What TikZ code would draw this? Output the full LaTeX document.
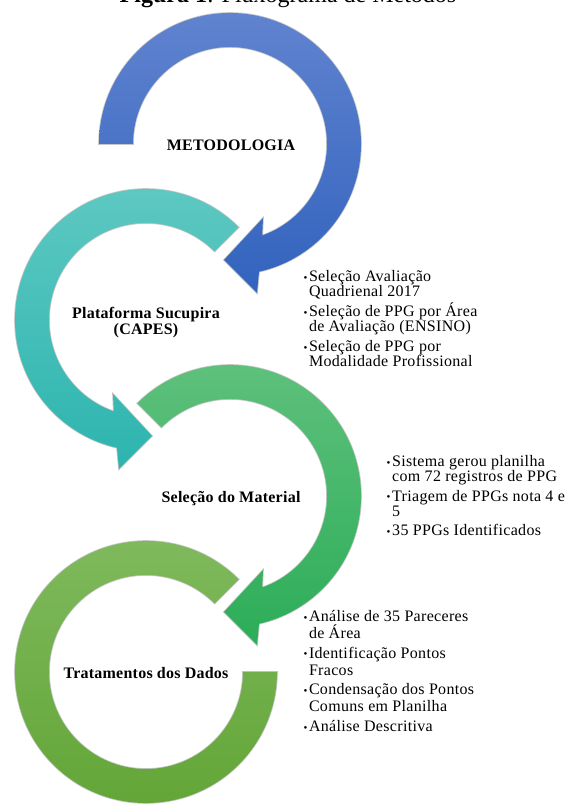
\documentclass[tikz,border=0pt]{standalone}
\usepackage{fontspec}
\setmainfont{Liberation Serif}
\definecolor{bluetop}{RGB}{96,131,207}
\definecolor{bluebot}{RGB}{50,99,190}
\definecolor{tealtop}{RGB}{95,201,194}
\definecolor{tealbot}{RGB}{45,180,175}
\definecolor{greentop}{RGB}{96,193,125}
\definecolor{greenbot}{RGB}{44,173,88}
\definecolor{limetop}{RGB}{128,186,94}
\definecolor{limebot}{RGB}{98,165,54}
\newcommand{\bul}{\makebox[5.5pt][l]{\fontsize{11}{11}\selectfont\raisebox{0.6pt}{•}}}
\tikzset{
  ring/.style={preaction={draw=black!22,line width=1.6pt}},
  lbl/.style={font=\bfseries\fontsize{16}{16.7}\selectfont\addfontfeature{LetterSpace=1.5},inner sep=0pt,align=center},
  itm/.style={font=\fontsize{16}{15}\selectfont\addfontfeature{LetterSpace=2},inner sep=0pt,anchor=base west},
}
\begin{document}
\begin{tikzpicture}[x=1pt,y=1pt]
\useasboundingbox (0,0) rectangle (566,806);
\fill[white] (0,0) rectangle (566,806);
% title (cut at top, as in the reference)
\node[font=\fontsize{24}{26}\selectfont,inner sep=0pt,anchor=base] (title) at (288,803) {\textbf{Figura 1}: Fluxograma de Métodos};
% arc 4
\begin{scope}[shift={(146,134)}]
\shade[ring,top color=limetop,bottom color=limebot]
 (45:131) arc[start angle=45,end angle=360,radius=131] -- (0:97)
 arc[start angle=360,end angle=45,radius=97] -- cycle;
\end{scope}
% arc 3
\begin{scope}[shift={(230,310)}]
\shade[ring,top color=greentop,bottom color=greenbot]
 (135:131) arc[start angle=135,end angle=-77.2,radius=131] -- (27,-149) -- (-6,-116) -- (33,-74) -- (-70.6:97)
 arc[start angle=-70.6,end angle=135,radius=97] -- cycle;
\end{scope}
% arc 2
\begin{scope}[shift={(146,486)}]
\shade[ring,top color=tealtop,bottom color=tealbot]
 (45:131) arc[start angle=45,end angle=257.2,radius=131] -- (-27,-149) -- (6,-116) -- (-33,-74) -- (250.6:97)
 arc[start angle=250.6,end angle=45,radius=97] -- cycle;
\end{scope}
% arc 1
\begin{scope}[shift={(230,662)}]
\shade[ring,top color=bluetop,bottom color=bluebot]
 (180:131) arc[start angle=180,end angle=-77.2,radius=131] -- (27,-149) -- (-6,-116) -- (33,-74) -- (-70.6:97)
 arc[start angle=-70.6,end angle=180,radius=97] -- cycle;
\end{scope}
% labels
\node[lbl,anchor=base] (m) at (231,655.3) {METODOLOGIA};
\node[lbl] (p) at (146,483.5) {Plataforma Sucupira\\(CAPES)};
\node[lbl,anchor=base] (s) at (231,303.3) {Seleção do Material};
\node[lbl,anchor=base] (t) at (146,127) {Tratamentos dos Dados};
% block 1
\node[itm] (a1) at (303.3,524) {\bul Seleção Avaliação};
\node[itm] (a1b) at (308.8,509) {Quadrienal 2017};
\node[itm] (a2) at (303.3,489) {\bul Seleção de PPG por Área};
\node[itm] (a2b) at (308.8,474) {de Avaliação (ENSINO)};
\node[itm] (a3) at (303.3,454) {\bul Seleção de PPG por};
\node[itm] (a3b) at (308.8,439) {Modalidade Profissional};
% block 2
\node[itm] (b1) at (386.5,339) {\bul Sistema gerou planilha};
\node[itm] (b1b) at (392,324) {com 72 registros de PPG};
\node[itm] (b2) at (386.5,304.5) {\bul Triagem de PPGs nota 4 e};
\node[itm] (b2b) at (392,289.5) {5};
\node[itm] (b3) at (386.5,270) {\bul 35 PPGs Identificados};
% block 3
\node[itm] (c1) at (303.3,184) {\bul Análise de 35 Pareceres};
\node[itm] (c1b) at (308.8,167.5) {de Área};
\node[itm] (c2) at (303.3,147.5) {\bul Identificação Pontos};
\node[itm] (c2b) at (308.8,130.5) {Fracos};
\node[itm] (c3) at (303.3,111) {\bul Condensação dos Pontos};
\node[itm] (c3b) at (308.8,94) {Comuns em Planilha};
\node[itm] (c4) at (303.3,74) {\bul Análise Descritiva};
\end{tikzpicture}
\end{document}
